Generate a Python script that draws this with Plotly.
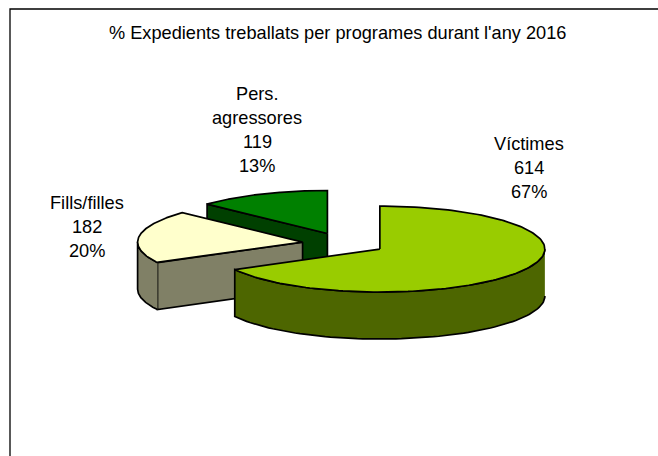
import numpy as np
import plotly.graph_objects as go

categories = ["Víctimes", "Fills/filles", "Pers. agressores"]
values = [614, 182, 119]
percents = ["67%", "20%", "13%"]
title = "% Expedients treballats per programes durant l'any 2016"
top_colors = ["#99CC00", "#FFFFCC", "#008000"]
side_colors = ["#4D6600", "#808066", "#004000"]
label_lines = [["Víctimes"], ["Fills/filles"], ["Pers.", "agressores"]]
label_centers = [(529, 144), (87, 203), (257, 94)]

# projection of the tilted pie on the page
CX, CY = 344, 243.5
RX, RY = 165, 43
DEPTH = 47
EXPLODE = 0.253
LINE_STEP = 24


def pt(a, r=1.0):
    return r * RX * np.sin(a), -r * RY * np.cos(a)


fracs = np.array(values, float) / sum(values)
ends = np.cumsum(fracs) * 2 * np.pi
starts = ends - fracs * 2 * np.pi
fig = go.Figure()


def poly(xs, ys, color):
    fig.add_trace(go.Scatter(x=list(xs), y=list(ys), mode="lines", fill="toself",
                             fillcolor=color, line=dict(color="#000000", width=1.7),
                             hoverinfo="skip", showlegend=False))


for i in [2, 1, 0]:
    s, e = starts[i], ends[i]
    mid = (s + e) / 2
    ox, oy = pt(mid, EXPLODE)
    ax, ay = CX + ox, CY + oy
    if i > 0:
        ex, ey = pt(s)
        poly([ax, ax + ex, ax + ex, ax, ax], [ay, ay + ey, ay + ey + DEPTH, ay + DEPTH, ay], side_colors[i])
    lo, hi = max(s, np.pi / 2), min(e, 3 * np.pi / 2)
    if hi > lo:
        t = np.linspace(lo, hi, 80)
        rx, ry = pt(t)
        poly(np.r_[ax + rx, ax + rx[::-1]], np.r_[ay + ry, ay + ry[::-1] + DEPTH], side_colors[i])
    t = np.linspace(s, e, 160)
    rx, ry = pt(t)
    poly(np.r_[ax, ax + rx, ax], np.r_[ay, ay + ry, ay], top_colors[i])

ann = [dict(x=337, y=33, text=title)]
for name, lines, (lx, ly), v, p in zip(categories, label_lines, label_centers, values, percents):
    for k, line in enumerate(lines + [str(v), p]):
        ann.append(dict(x=lx, y=ly + k * LINE_STEP, text=line))
for a in ann:
    a.update(xref="x", yref="y", showarrow=False, xanchor="center", yanchor="middle",
             font=dict(family="Liberation Sans, Arial, sans-serif", size=18.2, color="#000000"))

fig.update_layout(
    width=658, height=456, margin=dict(l=0, r=0, t=0, b=0),
    paper_bgcolor="#FFFFFF", plot_bgcolor="#FFFFFF", showlegend=False,
    xaxis=dict(range=[0, 658], visible=False, fixedrange=True),
    yaxis=dict(range=[456, 0], visible=False, fixedrange=True),
    annotations=ann,
    shapes=[dict(type="rect", xref="x", yref="y", x0=10, y0=9, x1=700, y1=500,
                 line=dict(color="#000000", width=1.3), layer="below")],
)
fig.write_html("out.html", config={"displayModeBar": False},
               post_script="document.body.style.margin='0';document.body.style.overflow='hidden';")
